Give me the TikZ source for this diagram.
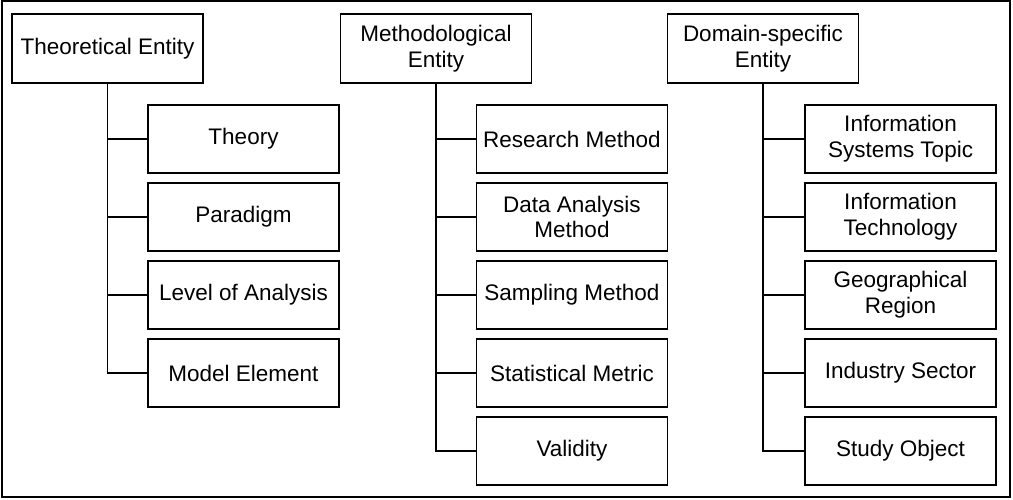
\documentclass[tikz,border=0pt]{standalone}
\usepackage{fontspec}
\setmainfont{Liberation Sans}
\usetikzlibrary{positioning}
\usepackage{xcolor}

\begin{document}
\begin{tikzpicture}[
        entity/.style={draw, line width=1pt, minimum width=3.82cm, minimum height=1.38cm, align=center, inner sep=2pt, font=\fontsize{12.8}{14.6}\selectfont},
        member/.style={entity, minimum height=1.36cm},
        link/.style={line width=1pt}
    ]
        \useasboundingbox (0, 0) rectangle (20.26, -9.98);
        \draw[line width=1pt] (0.04, -0.02) rectangle (20.2, -9.94);

        \node[entity] (the) at (2.15, -0.97) {Theoretical Entity};
        \node[entity] (met) at (8.72, -0.97) {Methodological\\Entity};
        \node[entity] (dom) at (15.26, -0.97) {Domain-specific\\Entity};

        \node[member] (theory) at (4.87, -2.78) {Theory};
        \node[member] (paradigm) at (4.87, -4.34) {Paradigm};
        \node[member] (level) at (4.87, -5.9) {Level of Analysis};
        \node[member] (model) at (4.87, -7.46) {Model Element};

        \node[member] (research) at (11.44, -2.78) {Research Method};
        \node[member] (analysis) at (11.44, -4.34) {Data Analysis\\Method};
        \node[member] (sampling) at (11.44, -5.9) {Sampling Method};
        \node[member] (metric) at (11.44, -7.46) {Statistical Metric};
        \node[member] (validity) at (11.44, -9.02) {Validity};

        \node[member] (topic) at (18.01, -2.78) {Information\\Systems Topic};
        \node[member] (tech) at (18.01, -4.34) {Information\\Technology};
        \node[member] (region) at (18.01, -5.9) {Geographical\\Region};
        \node[member] (sector) at (18.01, -7.46) {Industry Sector};
        \node[member] (object) at (18.01, -9.02) {Study Object};

        \foreach \c in {theory, paradigm, level, model}
            \draw[link] (the) |- (\c.west);
        \foreach \c in {research, analysis, sampling, metric, validity}
            \draw[link] (met) |- (\c.west);
        \foreach \c in {topic, tech, region, sector, object}
            \draw[link] (dom) |- (\c.west);
    \end{tikzpicture}
\end{document}
